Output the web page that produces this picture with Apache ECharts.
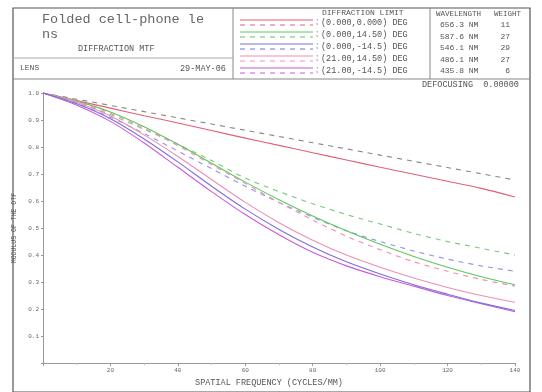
<!DOCTYPE html>
<html>
<head>
<meta charset="utf-8">
<script src="https://cdn.jsdelivr.net/npm/echarts@6/dist/echarts.min.js"></script>
<style>
  html, body { margin: 0; padding: 0; background: #fff; }
  #mtf { width: 542px; height: 392px; }
</style>
</head>
<body>
<div id="mtf"></div>
<script>
  // spatial frequency, cycles/mm
  var freq = [0, 10, 20, 30, 40, 50, 60, 70, 80, 90, 100, 110, 120, 130, 140];

  var diffLimit = [1, 0.977, 0.954, 0.931, 0.908, 0.885, 0.862, 0.839, 0.816, 0.793, 0.770, 0.747, 0.724, 0.701, 0.678];
  var f1T = [1, 0.972, 0.944, 0.916, 0.889, 0.861, 0.833, 0.806, 0.779, 0.752, 0.725, 0.699, 0.673, 0.647, 0.615];
  var f2S = [1, 0.965, 0.92, 0.865, 0.81, 0.75, 0.685, 0.635, 0.59, 0.55, 0.515, 0.48, 0.45, 0.425, 0.40];
  var f3S = [1, 0.96, 0.91, 0.85, 0.785, 0.72, 0.655, 0.595, 0.54, 0.49, 0.45, 0.415, 0.385, 0.36, 0.34];
  var f2T = [1, 0.97, 0.93, 0.875, 0.81, 0.74, 0.67, 0.605, 0.545, 0.49, 0.44, 0.395, 0.355, 0.32, 0.29];
  var f4S = [1, 0.968, 0.925, 0.87, 0.805, 0.735, 0.665, 0.595, 0.53, 0.47, 0.42, 0.375, 0.34, 0.31, 0.285];
  var f4T = [1, 0.965, 0.915, 0.845, 0.765, 0.68, 0.595, 0.52, 0.455, 0.40, 0.355, 0.315, 0.28, 0.25, 0.225];
  var f5T = [1, 0.955, 0.895, 0.815, 0.725, 0.635, 0.55, 0.475, 0.41, 0.36, 0.32, 0.285, 0.25, 0.22, 0.19];
  var f3T = [1, 0.96, 0.905, 0.83, 0.745, 0.655, 0.57, 0.495, 0.43, 0.375, 0.33, 0.29, 0.255, 0.222, 0.195];

  var fieldLabels = ['(0.000,0.000) DEG', '(0.000,14.50) DEG', '(0.000,-14.5) DEG', '(21.00,14.50) DEG', '(21.00,-14.5) DEG'];
  var wavelengths = ['656.3 NM', '587.6 NM', '546.1 NM', '486.1 NM', '435.8 NM'];
  var weights = ['11', '27', '29', '27', '6'];

  var mono = '"Liberation Mono", "DejaVu Sans Mono", monospace';
  var txt = '#555';
  var fieldColors = ['#e0607a', '#5cc85c', '#7a6ee0', '#ec8fb4', '#cc5ad8'];

  function pairs(vals) {
    return freq.map(function (f, i) { return [f, vals[i]]; });
  }

  function line(name, vals, color, dashed) {
    return {
      name: name,
      type: 'line',
      data: pairs(vals),
      smooth: 0.3,
      symbol: 'none',
      silent: true,
      lineStyle: { color: color, width: 1.1, type: dashed ? [5, 5] : 'solid' }
    };
  }

  // header boxes, legend swatches and texts
  var gfx = [
    { type: 'rect', shape: { x: 13, y: 8, width: 517, height: 384 }, style: { fill: 'none', stroke: '#555', lineWidth: 1.2 } },
    { type: 'line', shape: { x1: 13, y1: 79, x2: 530, y2: 79 }, style: { stroke: '#888', lineWidth: 1 } },
    { type: 'line', shape: { x1: 233, y1: 8, x2: 233, y2: 79 }, style: { stroke: '#888', lineWidth: 1 } },
    { type: 'line', shape: { x1: 430, y1: 8, x2: 430, y2: 79 }, style: { stroke: '#888', lineWidth: 1 } },
    { type: 'line', shape: { x1: 13, y1: 58, x2: 233, y2: 58 }, style: { stroke: '#aaa', lineWidth: 1 } },
    { type: 'text', x: 42, y: 12, style: { text: 'Folded cell-phone le', font: '13.5px ' + mono, fill: '#666' } },
    { type: 'text', x: 42, y: 27, style: { text: 'ns', font: '13.5px ' + mono, fill: '#666' } },
    { type: 'text', x: 78, y: 44, style: { text: 'DIFFRACTION MTF', font: '8.5px ' + mono, fill: txt } },
    { type: 'text', x: 20, y: 64, style: { text: 'LENS', font: '8px ' + mono, fill: txt } },
    { type: 'text', x: 180, y: 64, style: { text: '29-MAY-06', font: '8.5px ' + mono, fill: txt } },
    { type: 'text', x: 322, y: 9, style: { text: 'DIFFRACTION LIMIT', font: '8px ' + mono, fill: txt } },
    { type: 'text', x: 436, y: 10, style: { text: 'WAVELENGTH', font: '7.5px ' + mono, fill: txt } },
    { type: 'text', x: 494, y: 10, style: { text: 'WEIGHT', font: '7.5px ' + mono, fill: txt } },
    { type: 'text', x: 422, y: 80, style: { text: 'DEFOCUSING  0.00000', font: '8.5px ' + mono, fill: txt } }
  ];
  fieldLabels.forEach(function (lab, i) {
    var y = 20 + i * 12;
    gfx.push({ type: 'line', shape: { x1: 240, y1: y, x2: 313, y2: y }, style: { stroke: fieldColors[i], lineWidth: 1 } });
    gfx.push({ type: 'line', shape: { x1: 240, y1: y + 5, x2: 313, y2: y + 5 }, style: { stroke: fieldColors[i], lineWidth: 1, lineDash: [5, 5] } });
    gfx.push({ type: 'text', x: 316, y: y - 2, style: { text: 'T\nS', font: '4px ' + mono, fill: '#777' } });
    gfx.push({ type: 'text', x: 321, y: y - 2, style: { text: lab, font: '8.5px ' + mono, fill: txt } });
  });
  wavelengths.forEach(function (w, i) {
    var y = 21 + i * 11.5;
    gfx.push({ type: 'text', x: 440, y: y, style: { text: w, font: '8px ' + mono, fill: txt } });
    gfx.push({ type: 'text', x: 510, y: y, style: { text: weights[i], font: '8px ' + mono, fill: txt, align: 'right' } });
  });

  var chart = echarts.init(document.getElementById('mtf'));
  chart.setOption({
    animation: false,
    backgroundColor: '#fff',
    grid: { left: 43, right: 27, top: 93, bottom: 27 },
    xAxis: {
      type: 'value',
      min: 0,
      max: 140,
      interval: 20,
      name: 'SPATIAL FREQUENCY (CYCLES/MM)',
      nameLocation: 'middle',
      nameGap: 13,
      nameTextStyle: { fontFamily: mono, fontSize: 8.5, color: txt, padding: [0, 20, 0, 0] },
      axisLine: { lineStyle: { color: '#999' } },
      axisTick: { length: 3, lineStyle: { color: '#999' } },
      minorTick: { show: true, splitNumber: 2, length: 2, lineStyle: { color: '#bbb' } },
      splitLine: { show: false },
      axisLabel: {
        fontFamily: mono, fontSize: 6, color: '#666', margin: 4,
        formatter: function (v) { return v === 0 ? '' : String(v); }
      }
    },
    yAxis: {
      type: 'value',
      min: 0,
      max: 1,
      interval: 0.1,
      name: 'MODULUS OF THE OTF',
      nameLocation: 'middle',
      nameGap: 20,
      nameTextStyle: { fontFamily: mono, fontSize: 6.5, color: txt },
      axisLine: { show: true, lineStyle: { color: '#999' } },
      axisTick: { show: true, length: 2, lineStyle: { color: '#999' } },
      splitLine: { show: false },
      axisLabel: {
        fontFamily: mono, fontSize: 6, color: '#666', margin: 4,
        formatter: function (v) { return v === 0 ? '' : v.toFixed(1); }
      }
    },
    series: [
      line('DIFFRACTION LIMIT', diffLimit, '#888', true),
      line('F1 T', f1T, fieldColors[0], false),
      line('F2 S', f2S, '#7cc87c', true),
      line('F3 S', f3S, '#9a90e8', true),
      line('F2 T', f2T, fieldColors[1], false),
      line('F4 S', f4S, fieldColors[3], true),
      line('F4 T', f4T, fieldColors[3], false),
      line('F5 T', f5T, fieldColors[4], false),
      line('F3 T', f3T, fieldColors[2], false)
    ],
    graphic: gfx
  });
</script>
</body>
</html>
